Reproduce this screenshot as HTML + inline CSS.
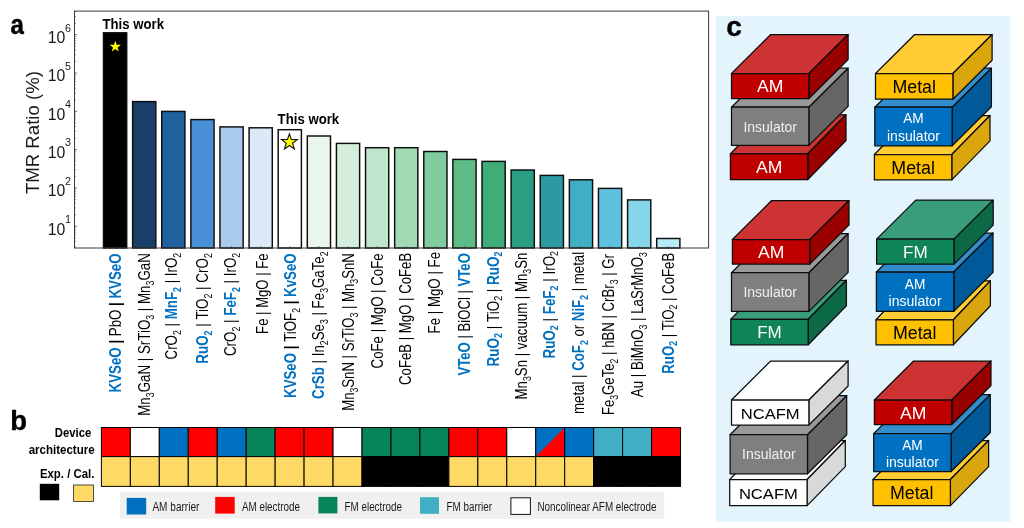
<!DOCTYPE html>
<html><head><meta charset="utf-8"><title>TMR figure</title>
<style>
html,body{margin:0;padding:0;background:#fff;}
body{width:1024px;height:528px;overflow:hidden;}
svg{display:block;font-family:"Liberation Sans", sans-serif;will-change:transform;}
</style></head><body>
<svg width="1024" height="528" viewBox="0 0 1024 528">
<rect x="0" y="0" width="1024" height="528" fill="#fff"/>
<g stroke="#0d0d0d" stroke-width="1.45">
<rect x="103.50" y="32.80" width="23.20" height="215.20" fill="#000000"/>
<rect x="132.62" y="101.60" width="23.20" height="146.40" fill="#173F68"/>
<rect x="161.73" y="111.40" width="23.20" height="136.60" fill="#20619F"/>
<rect x="190.85" y="119.60" width="23.20" height="128.40" fill="#4A90D9"/>
<rect x="219.96" y="126.90" width="23.20" height="121.10" fill="#A9CBEE"/>
<rect x="249.08" y="127.80" width="23.20" height="120.20" fill="#DCE9F7"/>
<rect x="278.20" y="129.70" width="23.20" height="118.30" fill="#FFFFFF"/>
<rect x="307.31" y="136.00" width="23.20" height="112.00" fill="#EAF5EC"/>
<rect x="336.43" y="143.40" width="23.20" height="104.60" fill="#D3EEDC"/>
<rect x="365.54" y="147.70" width="23.20" height="100.30" fill="#BDE6CC"/>
<rect x="394.66" y="147.70" width="23.20" height="100.30" fill="#A1DAB5"/>
<rect x="423.78" y="151.50" width="23.20" height="96.50" fill="#80CC9F"/>
<rect x="452.89" y="159.40" width="23.20" height="88.60" fill="#60BC86"/>
<rect x="482.01" y="161.40" width="23.20" height="86.60" fill="#40AD78"/>
<rect x="511.12" y="170.00" width="23.20" height="78.00" fill="#2A9D83"/>
<rect x="540.24" y="175.40" width="23.20" height="72.60" fill="#2C9AA0"/>
<rect x="569.36" y="179.80" width="23.20" height="68.20" fill="#40AEC3"/>
<rect x="598.47" y="188.40" width="23.20" height="59.60" fill="#5FC1DD"/>
<rect x="627.59" y="199.90" width="23.20" height="48.10" fill="#86D7EC"/>
<rect x="656.70" y="238.50" width="23.20" height="9.50" fill="#B6ECF6"/>
</g>
<rect x="74.5" y="11.1" width="634.1" height="236.9" fill="none" stroke="#3a3a3a" stroke-width="1"/>
<path d="M74.5 246.28h1.3M74.5 241.50h1.3M74.5 237.78h1.3M74.5 234.75h1.3M74.5 232.18h1.3M74.5 229.96h1.3M74.5 228.00h1.3M74.5 226.25h2.6M74.5 214.72h1.3M74.5 207.97h1.3M74.5 203.19h1.3M74.5 199.47h1.3M74.5 196.44h1.3M74.5 193.87h1.3M74.5 191.65h1.3M74.5 189.69h1.3M74.5 187.94h2.6M74.5 176.41h1.3M74.5 169.66h1.3M74.5 164.88h1.3M74.5 161.16h1.3M74.5 158.13h1.3M74.5 155.56h1.3M74.5 153.34h1.3M74.5 151.38h1.3M74.5 149.63h2.6M74.5 138.10h1.3M74.5 131.35h1.3M74.5 126.57h1.3M74.5 122.85h1.3M74.5 119.82h1.3M74.5 117.25h1.3M74.5 115.03h1.3M74.5 113.07h1.3M74.5 111.32h2.6M74.5 99.79h1.3M74.5 93.04h1.3M74.5 88.26h1.3M74.5 84.54h1.3M74.5 81.51h1.3M74.5 78.94h1.3M74.5 76.72h1.3M74.5 74.76h1.3M74.5 73.01h2.6M74.5 61.48h1.3M74.5 54.73h1.3M74.5 49.95h1.3M74.5 46.23h1.3M74.5 43.20h1.3M74.5 40.63h1.3M74.5 38.41h1.3M74.5 36.45h1.3M74.5 34.70h2.6M74.5 23.17h1.3M74.5 16.42h1.3M74.5 11.64h1.3M115.10 248.0v-1.8M144.22 248.0v-1.8M173.33 248.0v-1.8M202.45 248.0v-1.8M231.56 248.0v-1.8M260.68 248.0v-1.8M289.80 248.0v-1.8M318.91 248.0v-1.8M348.03 248.0v-1.8M377.14 248.0v-1.8M406.26 248.0v-1.8M435.38 248.0v-1.8M464.49 248.0v-1.8M493.61 248.0v-1.8M522.72 248.0v-1.8M551.84 248.0v-1.8M580.96 248.0v-1.8M610.07 248.0v-1.8M639.19 248.0v-1.8M668.30 248.0v-1.8" stroke="#3a3a3a" stroke-width="0.7" fill="none"/>
<text x="65.4" y="234.55" text-anchor="end" font-size="15.8" fill="#1a1a1a">10</text>
<text x="65.1" y="223.05" font-size="10.8" fill="#1a1a1a">1</text>
<text x="65.4" y="196.24" text-anchor="end" font-size="15.8" fill="#1a1a1a">10</text>
<text x="65.1" y="184.74" font-size="10.8" fill="#1a1a1a">2</text>
<text x="65.4" y="157.93" text-anchor="end" font-size="15.8" fill="#1a1a1a">10</text>
<text x="65.1" y="146.43" font-size="10.8" fill="#1a1a1a">3</text>
<text x="65.4" y="119.62" text-anchor="end" font-size="15.8" fill="#1a1a1a">10</text>
<text x="65.1" y="108.12" font-size="10.8" fill="#1a1a1a">4</text>
<text x="65.4" y="81.31" text-anchor="end" font-size="15.8" fill="#1a1a1a">10</text>
<text x="65.1" y="69.81" font-size="10.8" fill="#1a1a1a">5</text>
<text x="65.4" y="43.00" text-anchor="end" font-size="15.8" fill="#1a1a1a">10</text>
<text x="65.1" y="31.50" font-size="10.8" fill="#1a1a1a">6</text>
<text id="ylab" transform="translate(39.2 132.6) rotate(-90)" text-anchor="middle" font-size="18.6" fill="#1a1a1a">TMR Ratio (%)</text>
<text id="lab0" transform="translate(120.88 253.40) rotate(-90) scale(0.8314 1)" text-anchor="end" font-size="16" xml:space="preserve"><tspan font-weight="700" fill="#0070C0">KVSeO</tspan><tspan font-weight="700"> | </tspan><tspan>PbO</tspan><tspan font-weight="700"> | </tspan><tspan font-weight="700" fill="#0070C0">KVSeO</tspan></text>
<text id="lab1" transform="translate(149.93 253.20) rotate(-90) scale(0.8336 1)" text-anchor="end" font-size="16" xml:space="preserve"><tspan>Mn</tspan><tspan font-size="10.5" dy="3.6">3</tspan><tspan dy="-3.6">GaN</tspan><tspan> | </tspan><tspan>SrTiO</tspan><tspan font-size="10.5" dy="3.6">3</tspan><tspan dy="-3.6"> | </tspan><tspan>Mn</tspan><tspan font-size="10.5" dy="3.6">3</tspan><tspan dy="-3.6">GaN</tspan></text>
<text id="lab2" transform="translate(177.33 252.80) rotate(-90) scale(0.8333 1)" text-anchor="end" font-size="16" xml:space="preserve"><tspan>CrO</tspan><tspan font-size="10.5" dy="3.6">2</tspan><tspan dy="-3.6"> | </tspan><tspan font-weight="700" fill="#0070C0">MnF</tspan><tspan font-weight="700" fill="#0070C0" font-size="10.5" dy="3.6">2</tspan><tspan dy="-3.6"> | </tspan><tspan>IrO</tspan><tspan font-size="10.5" dy="3.6">2</tspan></text>
<text id="lab3" transform="translate(208.23 253.21) rotate(-90) scale(0.8378 1)" text-anchor="end" font-size="16" xml:space="preserve"><tspan font-weight="700" fill="#0070C0">RuO</tspan><tspan font-weight="700" fill="#0070C0" font-size="10.5" dy="3.6">2</tspan><tspan dy="-3.6"> | </tspan><tspan>TiO</tspan><tspan font-size="10.5" dy="3.6">2</tspan><tspan dy="-3.6"> | </tspan><tspan>CrO</tspan><tspan font-size="10.5" dy="3.6">2</tspan></text>
<text id="lab4" transform="translate(236.08 252.80) rotate(-90) scale(0.8356 1)" text-anchor="end" font-size="16" xml:space="preserve"><tspan>CrO</tspan><tspan font-size="10.5" dy="3.6">2</tspan><tspan dy="-3.6"> | </tspan><tspan font-weight="700" fill="#0070C0">FeF</tspan><tspan font-weight="700" fill="#0070C0" font-size="10.5" dy="3.6">2</tspan><tspan dy="-3.6"> | </tspan><tspan>IrO</tspan><tspan font-size="10.5" dy="3.6">2</tspan></text>
<text id="lab5" transform="translate(267.53 253.40) rotate(-90) scale(0.8203 1)" text-anchor="end" font-size="16" xml:space="preserve"><tspan>Fe</tspan><tspan> | </tspan><tspan>MgO</tspan><tspan> | </tspan><tspan>Fe</tspan></text>
<text id="lab6" transform="translate(296.28 253.40) rotate(-90) scale(0.8301 1)" text-anchor="end" font-size="16" xml:space="preserve"><tspan font-weight="700" fill="#0070C0">KVSeO</tspan><tspan font-weight="700"> | </tspan><tspan>TiOF</tspan><tspan font-size="10.5" dy="3.6">2</tspan><tspan font-weight="700" dy="-3.6"> | </tspan><tspan font-weight="700" fill="#0070C0">KvSeO</tspan></text>
<text id="lab7" transform="translate(324.33 251.39) rotate(-90) scale(0.8314 1)" text-anchor="end" font-size="16" xml:space="preserve"><tspan font-weight="700" fill="#0070C0">CrSb</tspan><tspan> | </tspan><tspan>In</tspan><tspan font-size="10.5" dy="3.6">2</tspan><tspan dy="-3.6">Se</tspan><tspan font-size="10.5" dy="3.6">3</tspan><tspan dy="-3.6"> | </tspan><tspan>Fe</tspan><tspan font-size="10.5" dy="3.6">3</tspan><tspan dy="-3.6">GaTe</tspan><tspan font-size="10.5" dy="3.6">2</tspan></text>
<text id="lab8" transform="translate(354.23 253.20) rotate(-90) scale(0.8235 1)" text-anchor="end" font-size="16" xml:space="preserve"><tspan>Mn</tspan><tspan font-size="10.5" dy="3.6">3</tspan><tspan dy="-3.6">SnN</tspan><tspan> | </tspan><tspan>SrTiO</tspan><tspan font-size="10.5" dy="3.6">3</tspan><tspan dy="-3.6"> | </tspan><tspan>Mn</tspan><tspan font-size="10.5" dy="3.6">3</tspan><tspan dy="-3.6">SnN</tspan></text>
<text id="lab9" transform="translate(382.98 253.40) rotate(-90) scale(0.8280 1)" text-anchor="end" font-size="16" xml:space="preserve"><tspan>CoFe</tspan><tspan> | </tspan><tspan>MgO</tspan><tspan> | </tspan><tspan>CoFe</tspan></text>
<text id="lab10" transform="translate(411.23 252.80) rotate(-90) scale(0.8244 1)" text-anchor="end" font-size="16" xml:space="preserve"><tspan>CoFeB</tspan><tspan> | </tspan><tspan>MgO</tspan><tspan> | </tspan><tspan>CoFeB</tspan></text>
<text id="lab11" transform="translate(440.18 251.92) rotate(-90) scale(0.8315 1)" text-anchor="end" font-size="16" xml:space="preserve"><tspan>Fe</tspan><tspan> | </tspan><tspan>MgO</tspan><tspan> | </tspan><tspan>Fe</tspan></text>
<text id="lab12" transform="translate(469.63 253.15) rotate(-90) scale(0.8210 1)" text-anchor="end" font-size="16" xml:space="preserve"><tspan font-weight="700" fill="#0070C0">VTeO</tspan><tspan> | </tspan><tspan>BiOCl</tspan><tspan> | </tspan><tspan font-weight="700" fill="#0070C0">VTeO</tspan></text>
<text id="lab13" transform="translate(498.73 251.51) rotate(-90) scale(0.8435 1)" text-anchor="end" font-size="16" xml:space="preserve"><tspan font-weight="700" fill="#0070C0">RuO</tspan><tspan font-weight="700" fill="#0070C0" font-size="10.5" dy="3.6">2</tspan><tspan dy="-3.6"> | </tspan><tspan>TiO</tspan><tspan font-size="10.5" dy="3.6">2</tspan><tspan dy="-3.6"> | </tspan><tspan font-weight="700" fill="#0070C0">RuO</tspan><tspan font-weight="700" fill="#0070C0" font-size="10.5" dy="3.6">2</tspan></text>
<text id="lab14" transform="translate(527.03 252.63) rotate(-90) scale(0.8281 1)" text-anchor="end" font-size="16" xml:space="preserve"><tspan>Mn</tspan><tspan font-size="10.5" dy="3.6">3</tspan><tspan dy="-3.6">Sn</tspan><tspan> | </tspan><tspan>vacuum</tspan><tspan> | </tspan><tspan>Mn</tspan><tspan font-size="10.5" dy="3.6">3</tspan><tspan dy="-3.6">Sn</tspan></text>
<text id="lab15" transform="translate(554.78 251.00) rotate(-90) scale(0.8402 1)" text-anchor="end" font-size="16" xml:space="preserve"><tspan font-weight="700" fill="#0070C0">RuO</tspan><tspan font-weight="700" fill="#0070C0" font-size="10.5" dy="3.6">2</tspan><tspan dy="-3.6"> | </tspan><tspan font-weight="700" fill="#0070C0">FeF</tspan><tspan font-weight="700" fill="#0070C0" font-size="10.5" dy="3.6">2</tspan><tspan dy="-3.6"> | </tspan><tspan>IrO</tspan><tspan font-size="10.5" dy="3.6">2</tspan></text>
<text id="lab16" transform="translate(584.48 251.85) rotate(-90) scale(0.8275 1)" text-anchor="end" font-size="16" xml:space="preserve"><tspan>metal</tspan><tspan> | </tspan><tspan font-weight="700" fill="#0070C0">CoF</tspan><tspan font-weight="700" fill="#0070C0" font-size="10.5" dy="3.6">2</tspan><tspan dy="-3.6"> or </tspan><tspan font-weight="700" fill="#0070C0">NiF</tspan><tspan font-weight="700" fill="#0070C0" font-size="10.5" dy="3.6">2</tspan><tspan dy="-3.6"> | </tspan><tspan>metal</tspan></text>
<text id="lab17" transform="translate(614.23 254.07) rotate(-90) scale(0.8246 1)" text-anchor="end" font-size="16" xml:space="preserve"><tspan>Fe</tspan><tspan font-size="10.5" dy="3.6">3</tspan><tspan dy="-3.6">GeTe</tspan><tspan font-size="10.5" dy="3.6">2</tspan><tspan dy="-3.6"> | </tspan><tspan>hBN</tspan><tspan> | </tspan><tspan>CrBr</tspan><tspan font-size="10.5" dy="3.6">3</tspan><tspan dy="-3.6"> | </tspan><tspan>Gr</tspan></text>
<text id="lab18" transform="translate(643.13 252.20) rotate(-90) scale(0.8306 1)" text-anchor="end" font-size="16" xml:space="preserve"><tspan>Au</tspan><tspan> | </tspan><tspan>BiMnO</tspan><tspan font-size="10.5" dy="3.6">3</tspan><tspan dy="-3.6"> | </tspan><tspan>LaSrMnO</tspan><tspan font-size="10.5" dy="3.6">3</tspan></text>
<text id="lab19" transform="translate(673.73 252.80) rotate(-90) scale(0.8258 1)" text-anchor="end" font-size="16" xml:space="preserve"><tspan font-weight="700" fill="#0070C0">RuO</tspan><tspan font-weight="700" fill="#0070C0" font-size="10.5" dy="3.6">2</tspan><tspan dy="-3.6"> | </tspan><tspan>TiO</tspan><tspan font-size="10.5" dy="3.6">2</tspan><tspan dy="-3.6"> | </tspan><tspan>CoFeB</tspan></text>
<text x="102.4" y="29.4" font-size="14.8" font-weight="700" textLength="61.6" lengthAdjust="spacingAndGlyphs">This work</text>
<text x="277.6" y="123.8" font-size="14.8" font-weight="700" textLength="61.6" lengthAdjust="spacingAndGlyphs">This work</text>
<polygon points="115.30,40.70 116.68,44.75 120.96,44.81 117.53,47.38 118.80,51.46 115.30,49.00 111.80,51.46 113.07,47.38 109.64,44.81 113.92,44.75" fill="#FFFF00"/>
<polygon points="289.40,133.90 291.34,139.53 297.29,139.64 292.54,143.22 294.28,148.91 289.40,145.50 284.52,148.91 286.26,143.22 281.51,139.64 287.46,139.53" fill="#FFFF00" stroke="#111" stroke-width="1.1" stroke-linejoin="miter"/>
<text transform="translate(10.4 34.3) scale(0.87 1)" font-size="27.6" font-weight="700" stroke="#000" stroke-width="0.5">a</text>
<text transform="translate(10.2 430.1) scale(0.98 1)" font-size="28" font-weight="700" stroke="#000" stroke-width="0.4">b</text>
<g stroke="#000" stroke-width="1">
<rect x="101.40" y="427.50" width="28.96" height="29.10" fill="#FF0000"/>
<rect x="130.36" y="427.50" width="28.96" height="29.10" fill="#FFFFFF"/>
<rect x="159.31" y="427.50" width="28.96" height="29.10" fill="#0070C0"/>
<rect x="188.27" y="427.50" width="28.96" height="29.10" fill="#FF0000"/>
<rect x="217.23" y="427.50" width="28.96" height="29.10" fill="#0070C0"/>
<rect x="246.19" y="427.50" width="28.96" height="29.10" fill="#068459"/>
<rect x="275.14" y="427.50" width="28.96" height="29.10" fill="#FF0000"/>
<rect x="304.10" y="427.50" width="28.96" height="29.10" fill="#FF0000"/>
<rect x="333.06" y="427.50" width="28.96" height="29.10" fill="#FFFFFF"/>
<rect x="362.01" y="427.50" width="28.96" height="29.10" fill="#068459"/>
<rect x="390.97" y="427.50" width="28.96" height="29.10" fill="#068459"/>
<rect x="419.93" y="427.50" width="28.96" height="29.10" fill="#068459"/>
<rect x="448.88" y="427.50" width="28.96" height="29.10" fill="#FF0000"/>
<rect x="477.84" y="427.50" width="28.96" height="29.10" fill="#FF0000"/>
<rect x="506.80" y="427.50" width="28.96" height="29.10" fill="#FFFFFF"/>
<rect x="535.75" y="427.50" width="28.96" height="29.10" fill="#0070C0"/>
<polygon points="564.21,428.00 564.21,456.10 536.25,456.10" fill="#FF0000" stroke="none"/>
<rect x="564.71" y="427.50" width="28.96" height="29.10" fill="#0070C0"/>
<rect x="593.67" y="427.50" width="28.96" height="29.10" fill="#40AEC3"/>
<rect x="622.63" y="427.50" width="28.96" height="29.10" fill="#40AEC3"/>
<rect x="651.58" y="427.50" width="28.96" height="29.10" fill="#FF0000"/>
<rect x="101.40" y="456.60" width="28.96" height="29.80" fill="#FFD966"/>
<rect x="130.36" y="456.60" width="28.96" height="29.80" fill="#FFD966"/>
<rect x="159.31" y="456.60" width="28.96" height="29.80" fill="#FFD966"/>
<rect x="188.27" y="456.60" width="28.96" height="29.80" fill="#FFD966"/>
<rect x="217.23" y="456.60" width="28.96" height="29.80" fill="#FFD966"/>
<rect x="246.19" y="456.60" width="28.96" height="29.80" fill="#FFD966"/>
<rect x="275.14" y="456.60" width="28.96" height="29.80" fill="#FFD966"/>
<rect x="304.10" y="456.60" width="28.96" height="29.80" fill="#FFD966"/>
<rect x="333.06" y="456.60" width="28.96" height="29.80" fill="#FFD966"/>
<rect x="362.01" y="456.60" width="28.96" height="29.80" fill="#000000"/>
<rect x="390.97" y="456.60" width="28.96" height="29.80" fill="#000000"/>
<rect x="419.93" y="456.60" width="28.96" height="29.80" fill="#000000"/>
<rect x="448.88" y="456.60" width="28.96" height="29.80" fill="#FFD966"/>
<rect x="477.84" y="456.60" width="28.96" height="29.80" fill="#FFD966"/>
<rect x="506.80" y="456.60" width="28.96" height="29.80" fill="#FFD966"/>
<rect x="535.75" y="456.60" width="28.96" height="29.80" fill="#FFD966"/>
<rect x="564.71" y="456.60" width="28.96" height="29.80" fill="#FFD966"/>
<rect x="593.67" y="456.60" width="28.96" height="29.80" fill="#000000"/>
<rect x="622.63" y="456.60" width="28.96" height="29.80" fill="#000000"/>
<rect x="651.58" y="456.60" width="28.96" height="29.80" fill="#000000"/>
</g>
<text x="91.2" y="436.6" text-anchor="end" font-size="12.6" font-weight="700" textLength="36.4" lengthAdjust="spacingAndGlyphs">Device</text>
<text x="94.6" y="453.5" text-anchor="end" font-size="12.6" font-weight="700" textLength="65.9" lengthAdjust="spacingAndGlyphs">architecture</text>
<text x="94.4" y="478.0" text-anchor="end" font-size="13.1" font-weight="700" textLength="54.5" lengthAdjust="spacingAndGlyphs">Exp. / Cal.</text>
<rect x="39.8" y="483.8" width="19.4" height="16.5" fill="#000"/>
<rect x="73.6" y="485" width="19.8" height="16.4" fill="#FFD966" stroke="#222" stroke-width="0.8"/>
<rect x="120" y="492" width="544.2" height="26.7" fill="#F0F0F0"/>
<rect x="126.7" y="497.9" width="19.5" height="16.6" fill="#0070C0"/>
<text x="152.4" y="511.2" font-size="12.3" fill="#1a1a1a" textLength="47.0" lengthAdjust="spacingAndGlyphs">AM barrier</text>
<rect x="215.2" y="496.9" width="19.5" height="16.7" fill="#FF0000"/>
<text x="241.9" y="511.2" font-size="12.3" fill="#1a1a1a" textLength="58.1" lengthAdjust="spacingAndGlyphs">AM electrode</text>
<rect x="318.4" y="496.9" width="19.0" height="16.5" fill="#068459"/>
<text x="344.5" y="511.2" font-size="12.3" fill="#1a1a1a" textLength="57.5" lengthAdjust="spacingAndGlyphs">FM electrode</text>
<rect x="420.0" y="497.2" width="19.0" height="16.6" fill="#40AEC3"/>
<text x="446.5" y="511.2" font-size="12.3" fill="#1a1a1a" textLength="45.5" lengthAdjust="spacingAndGlyphs">FM barrier</text>
<rect x="510.9" y="497.8" width="19.5" height="16.6" fill="#FFFFFF" stroke="#111" stroke-width="1"/>
<text x="537.4" y="511.2" font-size="12.3" fill="#1a1a1a" textLength="119.1" lengthAdjust="spacingAndGlyphs">Noncolinear AFM electrode</text>
<rect x="715.9" y="16" width="294.5" height="505.6" fill="#E3F4FC"/>
<text transform="translate(726.2 35.7) scale(1.0 1)" font-size="28" font-weight="700" stroke="#000" stroke-width="0.4">c</text>
<g stroke="#0d0d0d" stroke-width="1.25" stroke-linejoin="round"><polygon points="730.4,153.8 807.8,153.8 846.0,114.8 768.6,114.8" fill="#CD3333"/><polygon points="807.8,153.8 846.0,114.8 846.0,140.5 807.8,179.5" fill="#990000"/><rect x="730.4" y="153.8" width="77.4" height="25.7" fill="#C00000"/></g><text x="769.1" y="173.09" text-anchor="middle" font-size="17.3" fill="#fff" textLength="26.3" lengthAdjust="spacingAndGlyphs">AM</text>
<g stroke="#0d0d0d" stroke-width="1.25" stroke-linejoin="round"><polygon points="731.5,107.2 808.9,107.2 848.1,68.2 770.7,68.2" fill="#999999"/><polygon points="808.9,107.2 848.1,68.2 848.1,106.4 808.9,145.4" fill="#666666"/><rect x="731.5" y="107.2" width="77.4" height="38.2" fill="#7F7F7F"/></g><text x="770.2" y="131.50" text-anchor="middle" font-size="13.8" fill="#F0F0F0" textLength="53.6" lengthAdjust="spacingAndGlyphs">Insulator</text>
<g stroke="#0d0d0d" stroke-width="1.25" stroke-linejoin="round"><polygon points="731.5,73.5 808.9,73.5 848.1,34.5 770.7,34.5" fill="#CD3333"/><polygon points="808.9,73.5 848.1,34.5 848.1,59.5 808.9,98.5" fill="#990000"/><rect x="731.5" y="73.5" width="77.4" height="25.0" fill="#C00000"/></g><text x="770.2" y="92.44" text-anchor="middle" font-size="17.3" fill="#fff" textLength="26.3" lengthAdjust="spacingAndGlyphs">AM</text>
<g stroke="#0d0d0d" stroke-width="1.25" stroke-linejoin="round"><polygon points="874.4,154.5 951.8,154.5 990.0,115.5 912.6,115.5" fill="#FFCC33"/><polygon points="951.8,154.5 990.0,115.5 990.0,140.9 951.8,179.9" fill="#D9A60D"/><rect x="874.4" y="154.5" width="77.4" height="25.4" fill="#FFC000"/></g><text x="913.1" y="173.89" text-anchor="middle" font-size="18" fill="#000" textLength="43.5" lengthAdjust="spacingAndGlyphs">Metal</text>
<g stroke="#0d0d0d" stroke-width="1.25" stroke-linejoin="round"><polygon points="874.8,107.2 952.2,107.2 991.4,68.2 914.0,68.2" fill="#338DCD"/><polygon points="952.2,107.2 991.4,68.2 991.4,106.8 952.2,145.8" fill="#005A9A"/><rect x="874.8" y="107.2" width="77.4" height="38.6" fill="#0070C0"/></g><text x="913.5" y="123.45" text-anchor="middle" font-size="13.8" fill="#fff" textLength="20.5" lengthAdjust="spacingAndGlyphs">AM</text><text x="913.5" y="140.75" text-anchor="middle" font-size="13.8" fill="#fff" textLength="53.0" lengthAdjust="spacingAndGlyphs">insulator</text>
<g stroke="#0d0d0d" stroke-width="1.25" stroke-linejoin="round"><polygon points="875.5,73.5 952.9,73.5 992.1,34.5 914.7,34.5" fill="#FFCC33"/><polygon points="952.9,73.5 992.1,34.5 992.1,60.2 952.9,99.2" fill="#D9A60D"/><rect x="875.5" y="73.5" width="77.4" height="25.7" fill="#FFC000"/></g><text x="914.2" y="93.04" text-anchor="middle" font-size="18" fill="#000" textLength="43.5" lengthAdjust="spacingAndGlyphs">Metal</text>
<g stroke="#0d0d0d" stroke-width="1.25" stroke-linejoin="round"><polygon points="730.8,319.3 808.2,319.3 846.4,280.3 769.0,280.3" fill="#3A9D79"/><polygon points="808.2,319.3 846.4,280.3 846.4,305.8 808.2,344.8" fill="#0B6946"/><rect x="730.8" y="319.3" width="77.4" height="25.5" fill="#0E8457"/></g><text x="769.5" y="338.49" text-anchor="middle" font-size="17.3" fill="#fff" textLength="24.6" lengthAdjust="spacingAndGlyphs">FM</text>
<g stroke="#0d0d0d" stroke-width="1.25" stroke-linejoin="round"><polygon points="731.5,272.7 808.9,272.7 848.1,233.7 770.7,233.7" fill="#999999"/><polygon points="808.9,272.7 848.1,233.7 848.1,272.4 808.9,311.4" fill="#666666"/><rect x="731.5" y="272.7" width="77.4" height="38.7" fill="#7F7F7F"/></g><text x="770.2" y="297.25" text-anchor="middle" font-size="13.8" fill="#F0F0F0" textLength="53.6" lengthAdjust="spacingAndGlyphs">Insulator</text>
<g stroke="#0d0d0d" stroke-width="1.25" stroke-linejoin="round"><polygon points="732.4,239.5 809.8,239.5 849.0,200.5 771.6,200.5" fill="#CD3333"/><polygon points="809.8,239.5 849.0,200.5 849.0,225.1 809.8,264.1" fill="#990000"/><rect x="732.4" y="239.5" width="77.4" height="24.6" fill="#C00000"/></g><text x="771.1" y="258.24" text-anchor="middle" font-size="17.3" fill="#fff" textLength="26.3" lengthAdjust="spacingAndGlyphs">AM</text>
<g stroke="#0d0d0d" stroke-width="1.25" stroke-linejoin="round"><polygon points="876.0,319.8 953.4,319.8 990.4,280.8 913.0,280.8" fill="#FFCC33"/><polygon points="953.4,319.8 990.4,280.8 990.4,305.8 953.4,344.8" fill="#D9A60D"/><rect x="876.0" y="319.8" width="77.4" height="25.0" fill="#FFC000"/></g><text x="914.7" y="338.99" text-anchor="middle" font-size="18" fill="#000" textLength="43.5" lengthAdjust="spacingAndGlyphs">Metal</text>
<g stroke="#0d0d0d" stroke-width="1.25" stroke-linejoin="round"><polygon points="876.4,272.0 953.8,272.0 993.0,233.0 915.6,233.0" fill="#338DCD"/><polygon points="953.8,272.0 993.0,233.0 993.0,272.4 953.8,311.4" fill="#005A9A"/><rect x="876.4" y="272.0" width="77.4" height="39.4" fill="#0070C0"/></g><text x="915.1" y="288.65" text-anchor="middle" font-size="13.8" fill="#fff" textLength="20.5" lengthAdjust="spacingAndGlyphs">AM</text><text x="915.1" y="305.95" text-anchor="middle" font-size="13.8" fill="#fff" textLength="53.0" lengthAdjust="spacingAndGlyphs">insulator</text>
<g stroke="#0d0d0d" stroke-width="1.25" stroke-linejoin="round"><polygon points="876.6,239.1 954.0,239.1 993.2,200.1 915.8,200.1" fill="#3A9D79"/><polygon points="954.0,239.1 993.2,200.1 993.2,225.1 954.0,264.1" fill="#0B6946"/><rect x="876.6" y="239.1" width="77.4" height="25.0" fill="#0E8457"/></g><text x="915.3" y="258.04" text-anchor="middle" font-size="17.3" fill="#fff" textLength="24.6" lengthAdjust="spacingAndGlyphs">FM</text>
<g stroke="#0d0d0d" stroke-width="1.25" stroke-linejoin="round"><polygon points="729.7,479.5 807.1,479.5 845.3,440.5 767.9,440.5" fill="#FFFFFF"/><polygon points="807.1,479.5 845.3,440.5 845.3,466.6 807.1,505.6" fill="#D9D9D9"/><rect x="729.7" y="479.5" width="77.4" height="26.1" fill="#FFFFFF"/></g><text x="768.4" y="498.95" text-anchor="middle" font-size="15.5" fill="#000" textLength="59.0" lengthAdjust="spacingAndGlyphs">NCAFM</text>
<g stroke="#0d0d0d" stroke-width="1.25" stroke-linejoin="round"><polygon points="730.1,434.7 807.5,434.7 846.7,395.7 769.3,395.7" fill="#999999"/><polygon points="807.5,434.7 846.7,395.7 846.7,434.8 807.5,473.8" fill="#666666"/><rect x="730.1" y="434.7" width="77.4" height="39.1" fill="#7F7F7F"/></g><text x="768.8" y="459.45" text-anchor="middle" font-size="13.8" fill="#F0F0F0" textLength="53.6" lengthAdjust="spacingAndGlyphs">Insulator</text>
<g stroke="#0d0d0d" stroke-width="1.25" stroke-linejoin="round"><polygon points="731.5,400.0 808.9,400.0 848.1,361.0 770.7,361.0" fill="#FFFFFF"/><polygon points="808.9,400.0 848.1,361.0 848.1,386.0 808.9,425.0" fill="#D9D9D9"/><rect x="731.5" y="400.0" width="77.4" height="25.0" fill="#FFFFFF"/></g><text x="770.2" y="418.90" text-anchor="middle" font-size="15.5" fill="#000" textLength="59.0" lengthAdjust="spacingAndGlyphs">NCAFM</text>
<g stroke="#0d0d0d" stroke-width="1.25" stroke-linejoin="round"><polygon points="873.0,479.5 950.4,479.5 988.6,440.5 911.2,440.5" fill="#FFCC33"/><polygon points="950.4,479.5 988.6,440.5 988.6,466.6 950.4,505.6" fill="#D9A60D"/><rect x="873.0" y="479.5" width="77.4" height="26.1" fill="#FFC000"/></g><text x="911.7" y="499.24" text-anchor="middle" font-size="18" fill="#000" textLength="43.5" lengthAdjust="spacingAndGlyphs">Metal</text>
<g stroke="#0d0d0d" stroke-width="1.25" stroke-linejoin="round"><polygon points="873.7,433.6 951.1,433.6 990.3,394.6 912.9,394.6" fill="#338DCD"/><polygon points="951.1,433.6 990.3,394.6 990.3,432.5 951.1,471.5" fill="#005A9A"/><rect x="873.7" y="433.6" width="77.4" height="37.9" fill="#0070C0"/></g><text x="912.4" y="449.50" text-anchor="middle" font-size="13.8" fill="#fff" textLength="20.5" lengthAdjust="spacingAndGlyphs">AM</text><text x="912.4" y="466.80" text-anchor="middle" font-size="13.8" fill="#fff" textLength="53.0" lengthAdjust="spacingAndGlyphs">insulator</text>
<g stroke="#0d0d0d" stroke-width="1.25" stroke-linejoin="round"><polygon points="874.4,400.0 951.8,400.0 991.0,361.0 913.6,361.0" fill="#CD3333"/><polygon points="951.8,400.0 991.0,361.0 991.0,385.5 951.8,424.5" fill="#990000"/><rect x="874.4" y="400.0" width="77.4" height="24.5" fill="#C00000"/></g><text x="913.1" y="418.69" text-anchor="middle" font-size="17.3" fill="#fff" textLength="26.3" lengthAdjust="spacingAndGlyphs">AM</text>
</svg>
</body></html>
